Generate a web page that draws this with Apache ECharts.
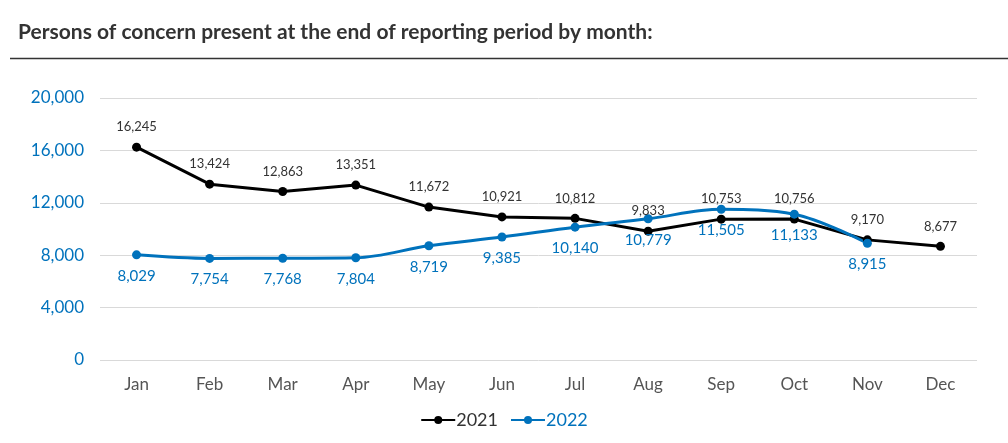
<!DOCTYPE html>
<html>
<head>
<meta charset="utf-8">
<script src="https://cdn.jsdelivr.net/npm/echarts@6/dist/echarts.min.js"></script>
<style>html,body{margin:0;padding:0;background:#fff;}#c{width:1008px;height:443px;}</style>
</head>
<body>
<div id="c"></div>
<script>
var months = ['Jan','Feb','Mar','Apr','May','Jun','Jul','Aug','Sep','Oct','Nov','Dec'];
var values2021 = [16245,13424,12863,13351,11672,10921,10812,9833,10753,10756,9170,8677];
var values2022 = [8029,7754,7768,7804,8719,9385,10140,10779,11505,11133,8915,null];
var yTicks = [0,4000,8000,12000,16000,20000];
var BLUE = '#0072BC';
var chart = echarts.init(document.getElementById('c'));
chart.setOption({
  animation:false,
  textStyle:{fontFamily:'Lato'},
  title:{text:'Persons of concern present at the end of reporting period by month:',left:13,top:17,textStyle:{fontFamily:'Lato',fontWeight:'bold',fontSize:21,color:'#333'}},
  graphic:[{type:'line',shape:{x1:10,y1:58.5,x2:1008,y2:58.5},style:{stroke:'#333',lineWidth:1.3}}],
  grid:{left:100,right:31,top:98,bottom:83},
  legend:{bottom:9,left:'center',itemWidth:34,itemHeight:10,itemGap:12,
    data:[{name:'2021',textStyle:{color:'#333'}},{name:'2022',textStyle:{color:BLUE}}],
    textStyle:{fontFamily:'Lato',fontSize:18,padding:[0,0,0,-4]}},
  xAxis:{type:'category',data:months,boundaryGap:true,
    axisLine:{show:false},axisTick:{show:false},
    axisLabel:{color:'#555',fontSize:17,margin:16,fontFamily:'Lato'}},
  yAxis:{type:'value',min:yTicks[0],max:yTicks[yTicks.length-1],interval:4000,
    axisLine:{show:false},axisTick:{show:false},
    splitLine:{lineStyle:{color:'#d9d9d9',width:1}},
    axisLabel:{color:BLUE,fontSize:17,margin:16,fontFamily:'Lato',formatter:function(v){return v.toLocaleString('en-US');}}},
  series:[
    {name:'2021',type:'line',data:values2021,smooth:false,color:'#000',
      lineStyle:{width:3,color:'#000'},symbol:'circle',symbolSize:9,itemStyle:{color:'#000'},
      label:{show:true,position:'top',distance:9,color:'#333',fontSize:13,fontFamily:'Lato',formatter:function(p){return p.value.toLocaleString('en-US');}}},
    {name:'2022',type:'line',data:values2022,smooth:0.35,color:BLUE,
      lineStyle:{width:3,color:BLUE},symbol:'circle',symbolSize:9,itemStyle:{color:BLUE},
      label:{show:true,position:'bottom',distance:9,color:BLUE,fontSize:15,fontFamily:'Lato',formatter:function(p){return p.value.toLocaleString('en-US');}}}
  ]
});
</script>
</body>
</html>
